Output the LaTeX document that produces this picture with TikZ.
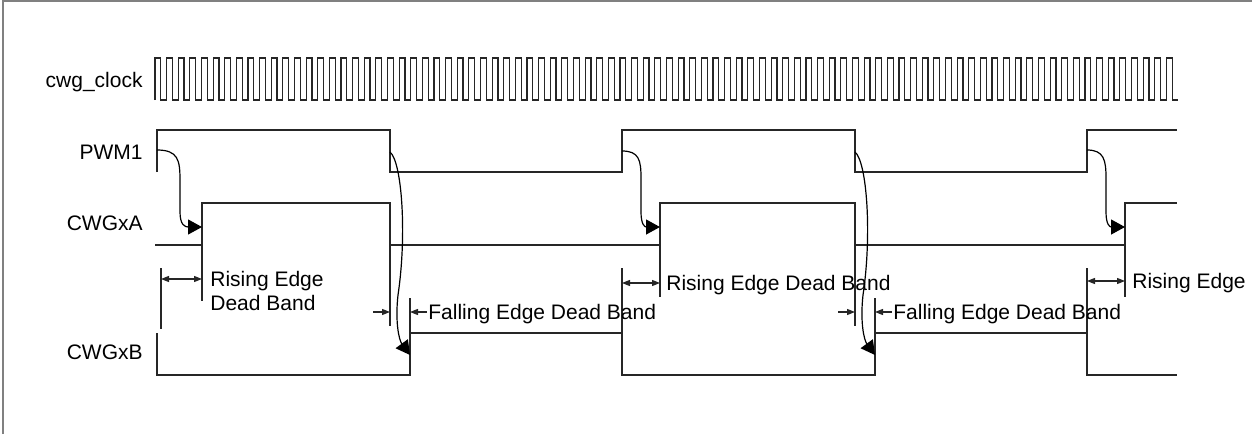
\documentclass[tikz,border=0pt]{standalone}
\usepackage{fontspec}
\setmainfont{Liberation Sans}
\usetikzlibrary{arrows.meta}

\begin{document}
\begin{tikzpicture}[x=0.5pt,y=-0.5pt,>={Triangle[length=4pt,width=3pt]},
  font=\fontsize{10.5}{12}\selectfont,
  sig/.style={black!85,line width=0.6pt},
  lbl/.style={inner sep=0pt},
  bendarrow/.style={line width=0.6pt,-{Triangle[length=7pt,width=7.5pt]}}]
\useasboundingbox (0,0) rectangle (1252,434);
\draw[gray,line width=0.8pt] (3,434) -- (3,1) -- (1252,1);

\node[lbl,anchor=base east] (lclk) at (143,87) {cwg\_clock};
\node[lbl,anchor=base east] (lpwm) at (143,159) {PWM1};
\node[lbl,anchor=base east] (lcwga) at (143,230) {CWGxA};
\node[lbl,anchor=base east] (lcwgb) at (143,359) {CWGxB};

% clock, 40 periods per PWM period
\draw[sig] (155,100) \foreach \k in {1,...,88}{ -- ++(0,-42) -- ++(5.8125,0) -- ++(0,42) -- ++(5.8125,0)};

\draw[sig] (157,172) -- (157,130) -- (390,130) -- (390,172) -- (622,172) -- (622,130) -- (855,130) -- (855,172) -- (1087,172) -- (1087,130) -- (1177,130);
\draw[sig] (155,245) -- (202,245) -- (202,203) -- (390,203) -- (390,245) -- (660,245) -- (660,203) -- (855,203) -- (855,245) -- (1125,245) -- (1125,203) -- (1177,203);
\draw[sig] (157,333) -- (157,375) -- (410,375) -- (410,333) -- (622,333) -- (622,375) -- (875,375) -- (875,333) -- (1087,333) -- (1087,375) -- (1177,375);

% extension lines
\draw[sig] (202,245) -- (202,301);
\draw[sig] (390,245) -- (390,326);
\draw[sig] (660,245) -- (660,297);
\draw[sig] (855,245) -- (855,326);
\draw[sig] (1125,245) -- (1125,297);
\draw[sig] (161,268) -- (161,329);
\draw[sig] (622,333) -- (622,268);
\draw[sig] (1087,333) -- (1087,268);
\draw[sig] (410,333) -- (410,298);
\draw[sig] (875,333) -- (875,298);

% edge to edge arrows
\coordinate (pr1) at (157,150);
\coordinate (ar1) at (202,227);
\coordinate (pr2) at (622,151);
\coordinate (ar2) at (660,227);
\coordinate (pr3) at (1087,150);
\coordinate (ar3) at (1125,227);
\coordinate (pf1) at (390,152);
\coordinate (bf1) at (410,355);
\coordinate (pf2) at (855,152);
\coordinate (bf2) at (875,355);
\draw[bendarrow] (pr1) .. controls (178,150) and (180,160) .. (180,180) -- (180,212) .. controls (180,225) and (185,227) .. (ar1);
\draw[bendarrow] (pr2) .. controls (639,151) and (641,160) .. (641,178) -- (641,212) .. controls (641,225) and (645,227) .. (ar2);
\draw[bendarrow] (pr3) .. controls (1104,150) and (1106,160) .. (1106,178) -- (1106,212) .. controls (1106,225) and (1110,227) .. (ar3);
\draw[bendarrow] (pf1) .. controls (402,162) and (407,235) .. (398,295) .. controls (395,322) and (399,340) .. (bf1);
\draw[bendarrow] (pf2) .. controls (867,162) and (872,235) .. (863,295) .. controls (860,322) and (864,340) .. (bf2);

% dead band dimensions
\coordinate (rd1a) at (161,279);
\coordinate (rd1b) at (202,279);
\coordinate (rd2a) at (622,283);
\coordinate (rd2b) at (660,283);
\coordinate (rd3a) at (1087,281);
\coordinate (rd3b) at (1125,281);
\coordinate (fd1a) at (373,312);
\coordinate (fd1b) at (390,312);
\coordinate (fd1c) at (427,312);
\coordinate (fd1d) at (410,312);
\coordinate (fd2a) at (838,312);
\coordinate (fd2b) at (855,312);
\coordinate (fd2c) at (892,312);
\coordinate (fd2d) at (875,312);
\draw[sig,<->] (rd1a) -- (rd1b);
\draw[sig,<->] (rd2a) -- (rd2b);
\draw[sig,<->] (rd3a) -- (rd3b);
\draw[sig,->] (fd1a) -- (fd1b);
\draw[sig,->] (fd1c) -- (fd1d);
\draw[sig,->] (fd2a) -- (fd2b);
\draw[sig,->] (fd2c) -- (fd2d);

\node[lbl,anchor=base west] (rise1) at (210,286) {Rising Edge};
\node[lbl,anchor=base west] (band1) at (210,310) {Dead Band};
\node[lbl,anchor=base west] (rise2) at (666,290.5) {Rising Edge Dead Band};
\node[lbl,anchor=base west] (rise3) at (1132,288) {Rising Edge};
\node[lbl,anchor=base west] (fall1) at (428,319.5) {Falling Edge Dead Band};
\node[lbl,anchor=base west] (fall2) at (893,319.5) {Falling Edge Dead Band};
\end{tikzpicture}
\end{document}
